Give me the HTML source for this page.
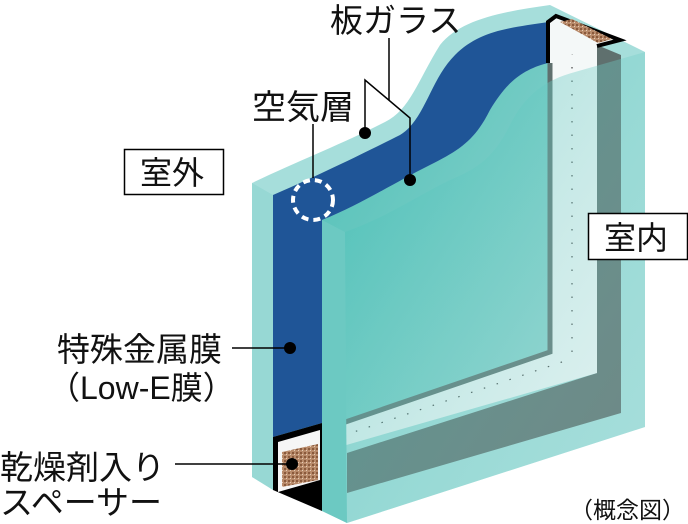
<!DOCTYPE html>
<html><head><meta charset="utf-8"><style>
html,body{margin:0;padding:0;background:#fff;}
svg{display:block;}
text{font-family:"Liberation Sans","Noto Sans CJK JP",sans-serif;fill:#111;}
</style></head><body>
<svg width="688" height="524" viewBox="0 0 688 524" xmlns="http://www.w3.org/2000/svg">
<defs>
<linearGradient id="ff" x1="0" y1="0" x2="1" y2="1">
<stop offset="0" stop-color="#3fbdb3" stop-opacity="0.5"/>
<stop offset="1" stop-color="#a9dfdb" stop-opacity="0.2"/>
</linearGradient>
<linearGradient id="ig" x1="0" y1="0" x2="1" y2="1">
<stop offset="0" stop-color="#4fc0b7"/>
<stop offset="1" stop-color="#95d5d0"/>
</linearGradient>
<pattern id="br" width="4" height="4" patternUnits="userSpaceOnUse">
<rect width="4" height="4" fill="#b88a6a"/><rect width="2" height="2" fill="#8a5a3c"/><rect x="2" y="2" width="1" height="1" fill="#e6cdb6"/>
</pattern>
</defs>
<path d="M252,183 C300,160 340,145 385,122 C410,110 418,80 440,45 C460,20 500,12 550,5 L645,52 L645,427 L347,523 L252,477 Z" fill="#a6dedb"/>
<path d="M597,45 L621,55 L621,413 L347,493 L347,453 L597,373 Z" fill="#5f706e"/>
<path d="M548,22 L597,45 L597,373 L322,452 L322,428 L548,352 Z" fill="#f4f8f8"/>
<line x1="572" y1="40" x2="572" y2="362" stroke="#444" stroke-width="1.2" stroke-dasharray="1.5 12"/>
<line x1="562" y1="362" x2="330" y2="440" stroke="#444" stroke-width="1.2" stroke-dasharray="1.5 12"/>
<path d="M322,220 C360,205 390,185 430,165 C460,150 475,140 490,110 C505,85 520,70 548,63 L548,350 L322,428 Z" fill="url(#ig)"/>
<path d="M550,63 L550,352 L322,430" fill="none" stroke="#5f706e" stroke-width="5"/>
<path d="M273,195 C330,170 370,150 400,135 C425,120 430,80 455,55 C480,30 510,28 548,22 L548,63 C520,70 505,85 490,110 C475,140 460,150 430,165 C390,185 360,205 322,220 L322,423 L273,437 Z" fill="#1f5597"/>
<path d="M273,437 L322,423 L322,511 L273,490 Z" fill="#000"/>
<path d="M278,442 L320,430 L320,480 L278,492 Z" fill="#f6f6f6"/>
<path d="M282,452 L318,444 L318,480 L282,487 Z" fill="url(#br)"/>
<path d="M548,63 L548,22 L556,16 L620,40 L597,46" fill="#f4f8f8" stroke="#000" stroke-width="4"/>
<path d="M560,22 L572,19 L612,39 L598,43 Z" fill="url(#br)"/>
<path d="M252,183 L273,195 L273,490 L252,477 Z" fill="#97d8d4"/>
<path d="M322,220 L345,232 L347,523 L322,511 Z" fill="#6cc9c2"/>
<path d="M345,232 C385,218 410,200 450,180 C480,168 495,155 510,125 C525,95 545,80 575,72 L645,52 L645,427 L347,523 Z" fill="url(#ff)"/>
<g stroke="#000" stroke-width="1.5" fill="none">
<line x1="389" y1="38" x2="389" y2="100"/>
<polyline points="365,133 365,80 410,118 410,180"/>
<line x1="313" y1="124" x2="313" y2="178"/>
<line x1="232" y1="348" x2="290" y2="348"/>
<line x1="175" y1="464" x2="292" y2="464"/>
</g>
<circle cx="365" cy="133" r="6"/><circle cx="410" cy="180" r="6"/>
<circle cx="290" cy="348" r="6"/><circle cx="292" cy="464" r="6"/>
<circle cx="313" cy="200" r="20" fill="none" stroke="#fff" stroke-width="4" stroke-dasharray="7 5"/>
<text x="330" y="32" font-size="33">板ガラス</text>
<text x="252" y="119" font-size="34">空気層</text>
<rect x="124.5" y="149.5" width="99" height="45" fill="#fff" stroke="#000" stroke-width="1.5"/>
<text x="140" y="184" font-size="32">室外</text>
<rect x="588.5" y="213.5" width="99" height="46" fill="#fff" stroke="#000" stroke-width="1.5"/>
<text x="604" y="249" font-size="32">室内</text>
<text x="57" y="361" font-size="33">特殊金属膜</text>
<text x="48" y="399" font-size="32">（Low-E膜）</text>
<text x="0" y="479" font-size="33">乾燥剤入り</text>
<text x="0" y="514" font-size="33">スペーサー</text>
<text x="570" y="518" font-size="23">（概念図）</text>
</svg>
</body></html>
